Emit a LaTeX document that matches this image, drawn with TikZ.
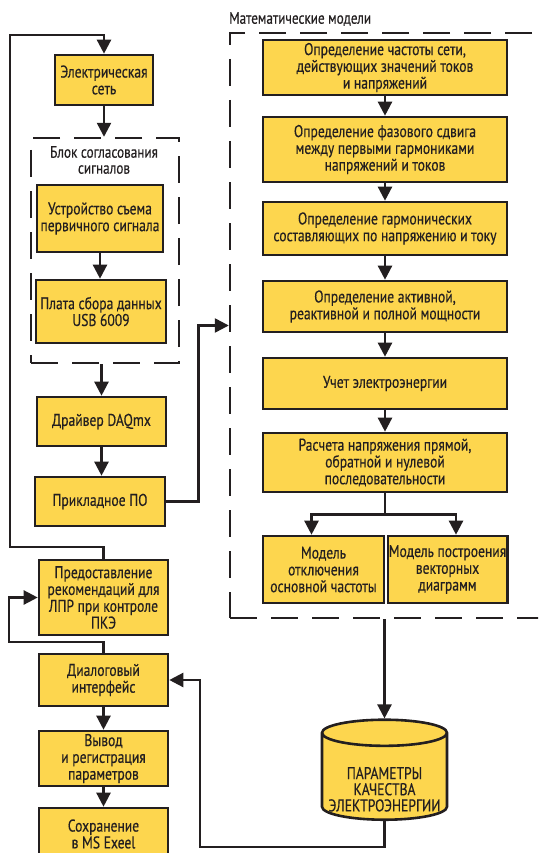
\documentclass[tikz,border=0pt]{standalone}
\usepackage{fontspec}
\setmainfont[FakeStretch=0.8,FakeBold=0.4]{PT Sans}
\usetikzlibrary{shapes}
\usetikzlibrary{positioning}
\usetikzlibrary{arrows.meta}
\definecolor{ink}{RGB}{35,31,32}
\definecolor{pqyel}{RGB}{253,214,78}
\tikzset{
    mybox/.style = {rectangle, line width=2.6pt, draw=ink, fill=pqyel, align=center, inner sep=1pt, font=\fontsize{17}{16.8}\selectfont, text=ink},
    mycyl/.style = {cylinder, shape border rotate=90, aspect=0.22, line width=2.6pt, draw=ink, fill=pqyel, font=\fontsize{17}{16.8}\selectfont, text=ink},
    mydash/.style = {rectangle, line width=2.4pt, draw=ink, dash pattern=on 27pt off 14pt},
    mylabel/.style = {align=center, inner sep=0, font=\fontsize{16.5}{16}\selectfont, text=ink},
    edgea/.style = {-{Triangle[length=14pt,width=14pt]}, line width=2.4pt, ink}, % arrow
    edgel/.style = {-, line width=2.4pt, ink}, % plain line
}

\begin{document}
\begin{tikzpicture}[x=1pt,y=-1pt]
\useasboundingbox (0,0) rectangle (538,853);
\clip (0,0) rectangle (538,853);

% left column
\node[mybox, minimum width=98pt, minimum height=50pt] at (104,80) (net) {Электрическая\\сеть};
\node[mydash, minimum width=148pt, minimum height=225pt] at (105,250.5) (blk) {};
\node[mylabel] at (104,160) (blklbl) {Блок согласования\\сигналов};
\node[mybox, minimum width=126pt, minimum height=67pt] at (100,218.5) (sens) {Устройство съема\\первичного сигнала};
\node[mybox, minimum width=130pt, minimum height=63pt] at (101,311.5) (daq) {Плата сбора данных\\USB 6009};
\node[mybox, minimum width=129pt, minimum height=49pt] at (101.5,421.5) (drv) {Драйвер DAQmx};
\node[mybox, minimum width=130pt, minimum height=49pt] at (100,501.5) (app) {Прикладное ПО};
\node[mybox, minimum width=129pt, minimum height=75pt] at (103.5,597.5) (rec) {Предоставление\\рекомендаций для\\ЛПР при контроле\\ПКЭ};
\node[mybox, minimum width=129pt, minimum height=52pt] at (103.5,680) (dlg) {Диалоговый\\интерфейс};
\node[mybox, minimum width=129pt, minimum height=55pt] at (103.5,758.5) (out) {Вывод\\и регистрация\\параметров};
\node[mybox, minimum width=129pt, minimum height=52pt] at (103.5,834) (save) {Сохранение\\в MS Exeel};

% right column
\node[mylabel, anchor=west] at (229,19) (mathlbl) {Математические модели};
\node[mydash, minimum width=330pt, minimum height=585pt] at (395,325.5) (math) {};
\node[mybox, minimum width=244pt, minimum height=55pt] at (385,67.5) (m1) {Определение частоты сети,\\действующих значений токов\\и напряжений};
\node[mybox, minimum width=244pt, minimum height=65pt] at (385,149.5) (m2) {Определение фазового сдвига\\между первыми гармониками\\напряжений и токов};
\node[mybox, minimum width=244pt, minimum height=53pt] at (385,228.5) (m3) {Определение гармонических\\составляющих по напряжению и току};
\node[mybox, minimum width=244pt, minimum height=51pt] at (385,306.5) (m4) {Определение активной,\\реактивной и полной мощности};
\node[mybox, minimum width=244pt, minimum height=51pt] at (385,383.5) (m5) {Учет электроэнергии};
\node[mybox, minimum width=244pt, minimum height=59pt] at (385,462.5) (m6) {Расчета напряжения прямой,\\обратной и нулевой\\последовательности};
\node[mybox, minimum width=121pt, minimum height=67pt] at (323.5,569.5) (m7) {Модель\\отключения\\основной частоты};
\node[mybox, minimum width=119pt, minimum height=67pt] at (447.5,569.5) (m8) {Модель построения\\векторных\\диаграмм};
\node[mycyl, minimum width=125pt, minimum height=100pt] at (384.5,779) (cyl)
  {\raisebox{-17pt}[0pt][0pt]{\begin{tabular}{@{}c@{}}ПАРАМЕТРЫ\\[-1pt]КАЧЕСТВА\\[-1pt]ЭЛЕКТРОЭНЕРГИИ\end{tabular}}};

\coordinate (fb1) at (10,547);
\coordinate (fb2) at (10,35);
\coordinate (fb3) at (9,642);
\coordinate (fb4) at (200,847);

\draw[edgea] (net.south) -- (net.south |- blk.north);
\draw[edgea] (sens.south) -- (sens.south |- daq.north);
\draw[edgea] (drv.north |- blk.south) -- (drv.north);
\draw[edgea] (drv.south) -- (drv.south |- app.north);
\draw[edgea] (dlg.south) -- (dlg.south |- out.north);
\draw[edgea] (out.south) -- (out.south |- save.north);
\draw[edgea] (rec.north) |- (fb1) -- (fb2) -| (net.north);
\draw[edgea] (dlg.north) |- (fb3) |- (rec.west);
\draw[edgea] (app.east) -- ++(32,0) |- (math.west);

\draw[edgea] (m1.south) -- (m2.north);
\draw[edgea] (m2.south) -- (m3.north);
\draw[edgea] (m3.south) -- (m4.north);
\draw[edgea] (m4.south) -- (m5.north);
\draw[edgea] (m5.south) -- (m6.north);
\draw[edgel] (m6.south) -- ++(0,21) coordinate (br);
\draw[edgea] (br) -| ([xshift=-12pt]m7.north);
\draw[edgea] (br) -| ([xshift=8.5pt]m8.north);
\draw[edgea] (cyl.north |- math.south) -- (cyl.north);
\draw[edgea] (cyl.south) |- (fb4) |- (dlg.east);

\end{tikzpicture}
\end{document}
